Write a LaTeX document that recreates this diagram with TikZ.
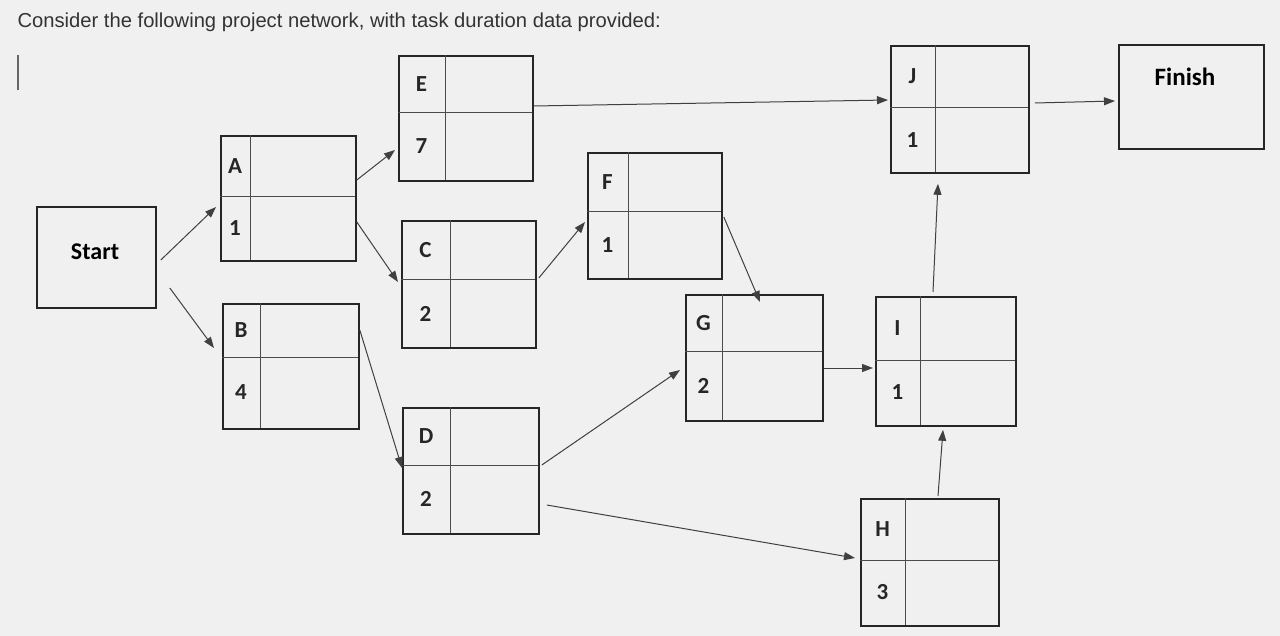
\documentclass[tikz,border=0pt]{standalone}
\usepackage{fontspec}
\setmainfont{Carlito}
\newfontfamily\headfont{Liberation Sans}
\usetikzlibrary{arrows.meta,calc}
\tikzset{
  boxline/.style={draw=black!85,line width=1.8pt},
  cell/.style={font=\bfseries\fontsize{23}{23}\selectfont,text=black!85},
  conn/.style={draw=black!75,line width=1pt,-{Triangle[length=11pt,width=8pt]}}
}
% \taskbox{name}{l}{t}{r}{b}{vx}{hy}{label}{dur}
\newcommand{\taskbox}[9]{%
  \node[boxline,minimum width={#4-#2},minimum height={#5-#3},inner sep=0pt,anchor=north west] (#1) at (#2,#3) {};
  \draw[line width=1pt,black!70] (#6,#3) -- (#6,#5) (#2,#7) -- (#4,#7);
  \node[cell] (#1l) at ({(#2+#6)/2},{(#3+#7)/2}) {#8};
  \node[cell] (#1d) at ({(#2+#6)/2},{(#7+#5)/2}) {#9};
}
\begin{document}
\begin{tikzpicture}[x=1pt,y=-1pt]
\path[fill=black!6] (0,0) rectangle (1280,636);
\useasboundingbox (0,0) rectangle (1280,636);
\node[anchor=west,font=\headfont\fontsize{20.2}{20.2}\selectfont,text=black!80] (title) at (14,22) {Consider the following project network, with task duration data provided:};
\draw[line width=1.2pt,black!60] (18,55) -- (18,90);
\node[boxline,minimum width=119,minimum height=101,anchor=north west] (S) at (36,206) {};
\node[font=\bfseries\fontsize{24}{24}\selectfont] (St) at (95,252) {Start};
\node[boxline,minimum width=145,minimum height=104,anchor=north west] (Fin) at (1118,44) {};
\node[font=\bfseries\fontsize{25}{25}\selectfont] (Fint) at (1185,77) {Finish};
\taskbox{A}{220}{135}{355}{260}{250}{197}{A}{1}
\taskbox{B}{222}{303}{358}{428}{260}{357}{B}{4}
\taskbox{E}{398}{55}{532}{180}{445}{113}{E}{7}
\taskbox{C}{401}{220}{535}{347}{450}{280}{C}{2}
\taskbox{D}{402}{407}{538}{533}{450}{465}{D}{2}
\taskbox{F}{587}{152}{721}{278}{628}{212}{F}{1}
\taskbox{G}{685}{294}{822}{420}{722}{352}{G}{2}
\taskbox{J}{890}{45}{1028}{172}{935}{108}{J}{1}
\taskbox{I}{875}{296}{1015}{425}{920}{360}{I}{1}
\taskbox{H}{860}{498}{998}{625}{905}{560}{H}{3}
\draw[conn] ($(S.north east)+(4,54)$) -- ($(A.north west)+(-4,72)$);
\draw[conn] ($(S.north east)+(13,82)$) -- ($(B.north west)+(-8,45)$);
\draw[conn] ($(A.north east)+(0,45)$) -- ($(E.north west)+(-3,95)$);
\draw[conn] ($(A.north east)+(0,87)$) -- ($(C.north west)+(-3,62)$);
\draw[conn] ($(B.north east)+(0,27)$) -- ($(D.north west)+(0,61)$);
\draw[conn] ($(C.north east)+(2,58)$) -- ($(F.north west)+(-2,70)$);
\draw[conn] ($(E.north east)+(0,51)$) -- ($(J.north west)+(-2,55)$);
\draw[conn] ($(F.north east)+(1,65)$) -- ($(G.north west)+(75,8)$);
\draw[conn] ($(D.north east)+(2,58)$) -- ($(G.north west)+(-5,76)$);
\draw[conn] ($(D.north east)+(7,98)$) -- ($(H.north west)+(-5,60)$);
\draw[conn] ($(G.north east)+(0,74)$) -- ($(I.north west)+(-2,72)$);
\draw[conn] ($(H.north west)+(78,-2)$) -- ($(I.south west)+(68,3)$);
\draw[conn] ($(I.north west)+(58,-4)$) -- ($(J.south west)+(48,10)$);
\draw[conn] ($(J.north east)+(5,58)$) -- ($(Fin.north west)+(-3,57)$);
\end{tikzpicture}
\end{document}
